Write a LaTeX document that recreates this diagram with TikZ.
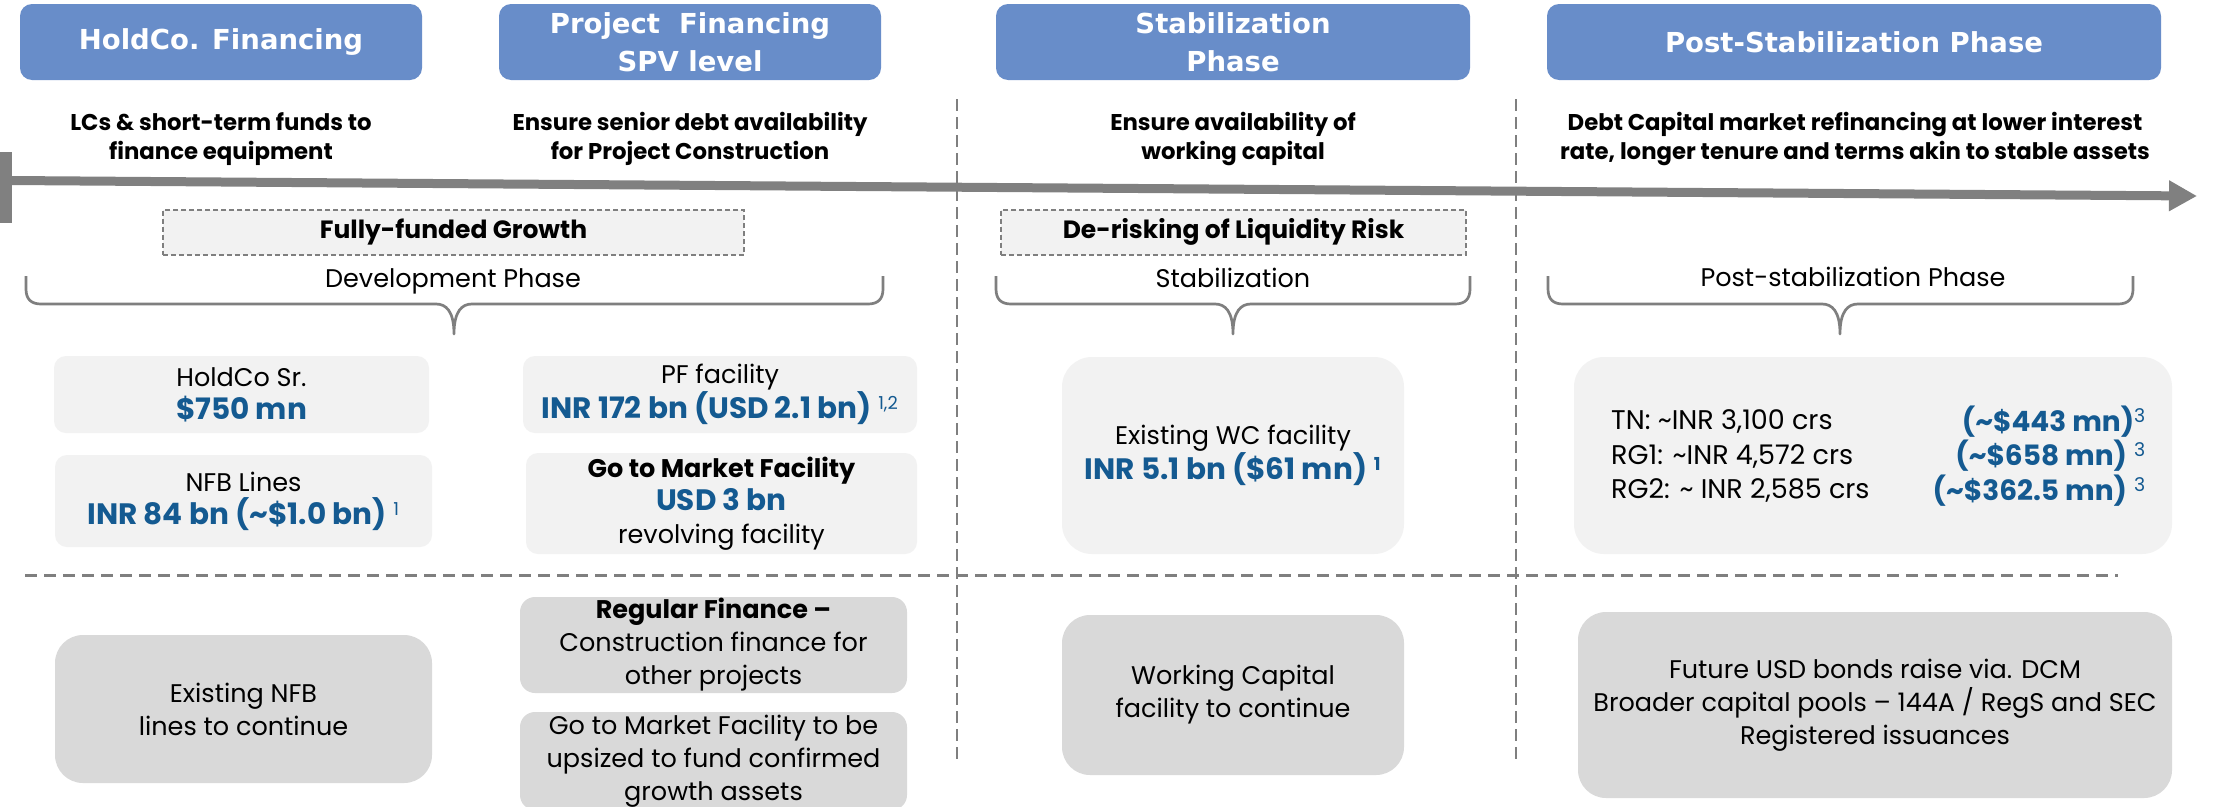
\documentclass[tikz,border=0pt]{standalone}
\usepackage{fontspec}
\setmainfont{Poppins}
\newfontfamily\hdrfont{DejaVu Sans}
\usetikzlibrary{arrows.meta}
\definecolor{hdrblue}{RGB}{104,141,201}
\definecolor{txtblue}{RGB}{20,90,145}
\definecolor{lightbox}{RGB}{242,242,242}
\definecolor{darkbox}{RGB}{217,217,217}
\definecolor{axisgray}{RGB}{128,128,128}
\definecolor{linegray}{RGB}{127,127,127}
\newcommand{\setfs}[2]{\fontsize{#1pt}{#2pt}\selectfont}
\newcommand{\boldtxt}[1]{{\bfseries #1}}
\newcommand{\bluebf}[1]{{\color{txtblue}\bfseries\setfs{29.5}{33}#1}}
\newcommand{\bluetn}[1]{{\color{txtblue}\bfseries\setfs{28}{34.5}#1}}
\newcommand{\supnum}[1]{{\color{txtblue}\textsuperscript{#1}}}
\newcommand{\supbold}[1]{{\color{txtblue}\bfseries\textsuperscript{#1}}}
\newcommand{\phasebrace}[3]{%
  \draw[bracestyle] (#1,276) -- (#1,289) .. controls (#1,299) and (#1+5,304) .. (#1+15,304)
    -- (#3-18,304) .. controls (#3-8,304) and (#3,311) .. (#3,334)
    .. controls (#3,311) and (#3+8,304) .. (#3+18,304)
    -- (#2-15,304) .. controls (#2-5,304) and (#2,299) .. (#2,289) -- (#2,276);}
\begin{document}
\begin{tikzpicture}[x=1pt,y=-1pt,
  hdr/.style={fill=hdrblue, rounded corners=12pt, text=white, font=\hdrfont\bfseries\setfs{27.5}{38}, align=center, inner sep=0pt, minimum height=76pt},
  sub/.style={font=\bfseries\setfs{22.8}{29}, align=center, inner sep=0pt},
  tag/.style={draw=linegray, dash pattern=on 5pt off 3pt, line width=2pt, fill=lightbox, font=\bfseries\setfs{25}{30}, inner sep=0pt, minimum height=45pt},
  phase/.style={font=\setfs{25.5}{30}, inner sep=0pt, anchor=base},
  lbox/.style={fill=lightbox, rounded corners=12pt, align=center, inner sep=0pt, font=\setfs{25.5}{33}},
  rbox/.style={lbox, rounded corners=30pt},
  dbox/.style={fill=darkbox, rounded corners=28pt, align=center, inner sep=0pt, font=\setfs{25.5}{33}},
  sbox/.style={dbox, rounded corners=15pt},
  bracestyle/.style={draw=linegray, line width=2.7pt, line join=round},
  vdash/.style={draw=linegray, line width=2pt, dash pattern=on 12pt off 6pt},
  hdash/.style={draw=linegray, line width=3pt, dash pattern=on 12pt off 7pt}
]
\useasboundingbox (0,0) rectangle (2215,806);
\fill[white] (0,0) rectangle (2215,806);
\clip (0,0) rectangle (2215,806);

% dashed separators
\coordinate (v1t) at (957,99);  \coordinate (v1b) at (957,762);
\coordinate (v2t) at (1516,99); \coordinate (v2b) at (1516,762);
\coordinate (hl) at (25,575);   \coordinate (hr) at (2118,575);
\draw[vdash] (v1t) -- (v1b);
\draw[vdash] (v2t) -- (v2b);
\draw[hdash] (hl) -- (hr);

% headers
\node[hdr, minimum width=402pt] (h1) at (221,42) {HoldCo. Financing};
\node[hdr, minimum width=382pt] (h2) at (690,42) {Project\ \ Financing\\SPV level};
\node[hdr, minimum width=474pt] (h3) at (1233,42) {Stabilization\\Phase};
\node[hdr, minimum width=614pt] (h4) at (1854,42) {Post-Stabilization Phase};

% subtitles
\node[sub] (s1) at (221,139) {LCs \& short-term funds to\\finance equipment};
\node[sub] (s2) at (690,139) {Ensure senior debt availability\\for Project Construction};
\node[sub] (s3) at (1233,139) {Ensure availability of\\working capital};
\node[sub] (s4) at (1855,139) {Debt Capital market refinancing at lower interest\\rate, longer tenure and terms akin to stable assets};

% timeline axis
\fill[axisgray] (0,152) rectangle (12,223);
\coordinate (axL) at (10,180.5);
\coordinate (axR) at (2197,196);
\draw[axisgray, line width=9pt, -{Triangle[length=28pt,width=29pt]}] (axL) -- (axR);

% tags
\node[tag, minimum width=581pt] (t1) at (453.5,232) {Fully-funded Growth};
\node[tag, minimum width=465pt] (t2) at (1233.5,232) {De-risking of Liquidity Risk};

% phase labels and braces
\node[phase] (p1) at (453,287) {Development Phase};
\node[phase] (p2) at (1233,287) {Stabilization};
\node[phase] (p3) at (1853,286) {Post-stabilization Phase};
\phasebrace{26}{883}{454}
\phasebrace{996}{1470}{1233}
\phasebrace{1548}{2133}{1840}

% upper boxes
\node[lbox, minimum width=375pt, minimum height=77pt] (hs) at (241.5,394.5) {HoldCo Sr.\\\bluebf{\$750 mn}};
\node[lbox, minimum width=377pt, minimum height=92pt] (nfb) at (243.5,501) {NFB Lines\\\bluebf{INR 84 bn (\textasciitilde\$1.0 bn)}~\supnum{1}};
\node[lbox, minimum width=394pt, minimum height=77pt] (pf) at (720,394.5) {PF facility\\\bluebf{INR 172 bn (USD 2.1 bn)}~\supnum{1,2}};
\node[lbox, minimum width=391pt, minimum height=101pt] (gtm) at (721.5,503.5) {\boldtxt{Go to Market Facility}\\\bluebf{USD 3 bn}\\revolving facility};
\node[rbox, minimum width=342pt, minimum height=197pt] (wc) at (1233,455.5) {Existing WC facility\\\bluebf{INR 5.1 bn (\$61 mn)}~\supbold{1}};
\node[rbox, minimum width=598pt, minimum height=197pt] (tn) at (1873,455.5) {};
\node[anchor=west, align=left, inner sep=0pt, font=\setfs{27}{34.5}] (tnl) at (1611,456)
  {TN: \textasciitilde INR 3,100 crs\\RG1: \textasciitilde INR 4,572 crs\\RG2: \textasciitilde\ INR 2,585 crs};
\node[anchor=east, align=right, inner sep=0pt, font=\setfs{27}{34.5}] (tnr) at (2146,456)
  {\bluetn{(\textasciitilde\$443 mn)}\supnum{3}\\\bluetn{(\textasciitilde\$658 mn)}~\supnum{3}\\\bluetn{(\textasciitilde\$362.5 mn)}~\supnum{3}};

% lower boxes
\node[dbox, minimum width=377pt, minimum height=148pt] (enfb) at (243.5,709) {Existing NFB\\lines to continue};
\node[sbox, minimum width=387pt, minimum height=96pt] (reg) at (713.5,645) {\boldtxt{Regular Finance –}\\Construction finance for\\other projects};
\node[sbox, minimum width=387pt, minimum height=98pt] (gtm2) at (713.5,761) {Go to Market Facility to be\\upsized to fund confirmed\\growth assets};
\node[dbox, minimum width=342pt, minimum height=160pt] (wcc) at (1233,695) {Working Capital\\facility to continue};
\node[dbox, minimum width=594pt, minimum height=186pt] (fut) at (1875,705) {Future USD bonds raise via. DCM\\Broader capital pools – 144A / RegS and SEC\\Registered issuances};
\end{tikzpicture}
\end{document}
